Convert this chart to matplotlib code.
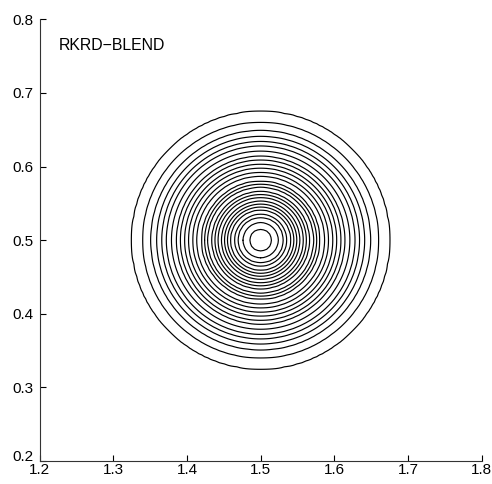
import numpy as np
import matplotlib
matplotlib.use("Agg")
import matplotlib.pyplot as plt
import matplotlib.transforms as mtransforms

# contour ring radii (outer -> inner), centre of the blob
ring_radii = [0.175, 0.160, 0.149, 0.141, 0.134, 0.128, 0.121, 0.114, 0.109,
              0.103, 0.098, 0.092, 0.087, 0.080, 0.076, 0.072, 0.066, 0.062,
              0.058, 0.053, 0.049, 0.045, 0.041, 0.035, 0.031, 0.024, 0.015]
center = (1.5, 0.5)
xticks = [1.2, 1.3, 1.4, 1.5, 1.6, 1.7, 1.8]
yticks = [0.2, 0.3, 0.4, 0.5, 0.6, 0.7, 0.8]
label = "RKRD\u2212BLEND"

plt.rcParams['font.family'] = ['Liberation Sans', 'DejaVu Sans']

# radial field whose level sets fall on the measured rings
n = len(ring_radii)
levels = np.arange(1, n + 1) - 0.5
r_pts = np.concatenate([[0.0], ring_radii[::-1], [0.19]])
f_pts = np.concatenate([[n + 0.5], levels[::-1], [0]])

x = np.arange(1.2, 1.8001, 0.004)
y = np.arange(0.2, 0.8001, 0.004)
X, Y = np.meshgrid(x, y)
R = np.hypot(X - center[0], Y - center[1])
Z = np.interp(R, r_pts, f_pts)

fig = plt.figure(figsize=(4.92, 4.84), dpi=100)
ax = fig.add_axes([0.0803, 0.0475, 0.899, 0.9125])
ax.contour(X, Y, Z, levels=levels, colors='black', linewidths=0.85)

ax.set_xlim(1.2, 1.8)
ax.set_ylim(0.2, 0.8)
ax.set_xticks(xticks)
ax.set_yticks(yticks)
ax.set_xticklabels([f"{v:g}" for v in xticks])
ax.set_yticklabels([f"{v:g}" for v in yticks])
ax.tick_params(direction='in', length=4, width=0.8, labelsize=11,
               colors='black')
ax.tick_params(axis='x', pad=1.5)
ax.tick_params(axis='y', pad=4.5)
for side in ['top', 'right']:
    ax.spines[side].set_visible(False)
for side in ['left', 'bottom']:
    ax.spines[side].set_linewidth(0.8)
    ax.spines[side].set_color('#333333')

# lift the bottom y label a little so it clears the first x label
lift = mtransforms.ScaledTranslation(0, 4 / 72, fig.dpi_scale_trans)
first = ax.get_yticklabels()[0]
first.set_transform(first.get_transform() + lift)

ax.text(1.2265, 0.765, label, fontsize=11.4, va='center', ha='left')

fig.savefig("out.png", dpi=100)
